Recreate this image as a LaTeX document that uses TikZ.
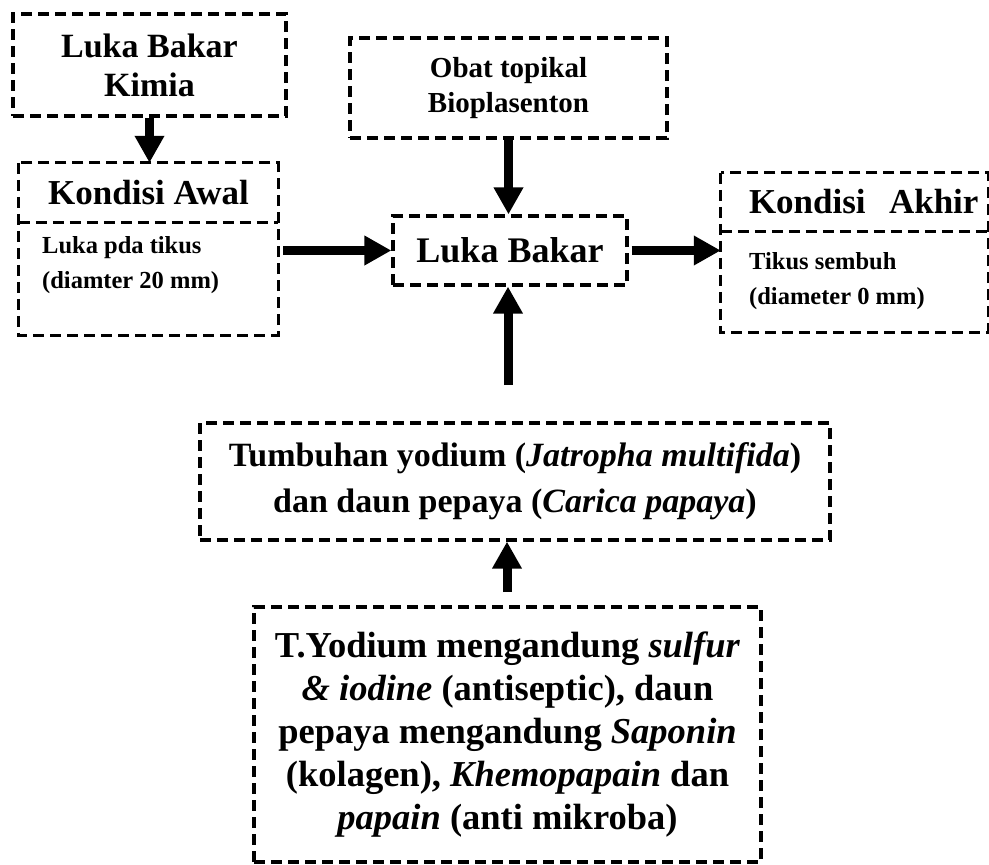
\documentclass[tikz,border=0pt]{standalone}
\usepackage{fontspec}
\setmainfont{Liberation Serif}
\usetikzlibrary{arrows.meta}
\begin{document}
\begin{tikzpicture}[x=1pt,y=-1pt,
  dsh/.style={line width=3.2pt, dash pattern=on 11pt off 6pt},
  box/.style={draw, dsh, inner sep=0pt, align=center},
  cell/.style={inner sep=0pt, align=center},
  big/.style={font=\fontsize{34}{39}\selectfont\bfseries},
  mid/.style={font=\fontsize{29}{35}\selectfont\bfseries},
  sml/.style={font=\fontsize{24.5}{35}\selectfont\bfseries, inner sep=0pt, align=left, anchor=west},
  arr/.style={line width=9pt, -{Triangle[length=27pt,width=28pt]}}]
\useasboundingbox (0,0) rectangle (989,865);
% boxes
\node[box,big,minimum width=273pt,minimum height=102pt] (A) at (149.5,65) {Luka Bakar\\Kimia};
\node[cell,font=\fontsize{35}{39}\selectfont\bfseries,minimum width=259pt,minimum height=59pt] (KA) at (148.5,192.5) {Kondisi Awal};
\node[cell,minimum width=259pt,minimum height=113pt] (LP) at (148.5,278.5) {};
\node[sml] (LPt) at (42,265.5) {Luka pda tikus\\(diamter 20 mm)};
\draw[dsh] (KA.north west) rectangle (LP.south east);
\draw[dsh] (KA.south west) -- (KA.south east);
\node[box,mid,minimum width=317pt,minimum height=100pt] (O) at (508.5,88) {Obat topikal\\Bioplasenton};
\node[box,font=\fontsize{36}{40}\selectfont\bfseries,minimum width=234pt,minimum height=69pt] (LB) at (510,250.5) {Luka Bakar};
\node[cell,font=\fontsize{35}{39}\selectfont\bfseries,minimum width=267pt,minimum height=58pt,text width=211pt,align=left] (KK) at (854.5,202) {\makebox[211pt][l]{Kondisi\ \ Akhir}};
\node[cell,minimum width=267pt,minimum height=101pt] (TS) at (854.5,281.5) {};
\node[sml] (TSt) at (749,281) {Tikus sembuh\\(diameter 0 mm)};
\draw[dsh] (KK.north west) rectangle (TS.south east);
\draw[dsh] (KK.south west) -- (KK.south east);
\node[box,font=\fontsize{34}{46}\selectfont\bfseries,minimum width=630pt,minimum height=117pt] (T) at (515,481.5) {Tumbuhan yodium (\textit{Jatropha multifida})\\dan daun pepaya (\textit{Carica papaya})};
\node[box,font=\fontsize{36.5}{43}\selectfont\bfseries,minimum width=507pt,minimum height=255pt] (B) at (507.5,734.5) {T.Yodium mengandung \textit{sulfur}\\\textit{\&\ iodine} (antiseptic), daun\\pepaya mengandung \textit{Saponin}\\(kolagen), \textit{Khemopapain} dan\\\textit{papain} (anti mikroba)};
% free arrow ends
\coordinate (ts) at (508,385);
\coordinate (bs) at (507,592);
% connectors
\draw[arr] (A.south) -- (A.south |- KA.north);
\draw[arr] ([xshift=5pt]LP.east |- LB.west) -- (LB.west);
\draw[arr] (O.south) -- (O.south |- LB.north);
\draw[arr] ([xshift=3pt]LB.east) -- (KK.west |- LB.east);
\draw[arr] (ts) -- (ts |- LB.south);
\draw[arr] (bs) -- (bs |- T.south);
\end{tikzpicture}
\end{document}
